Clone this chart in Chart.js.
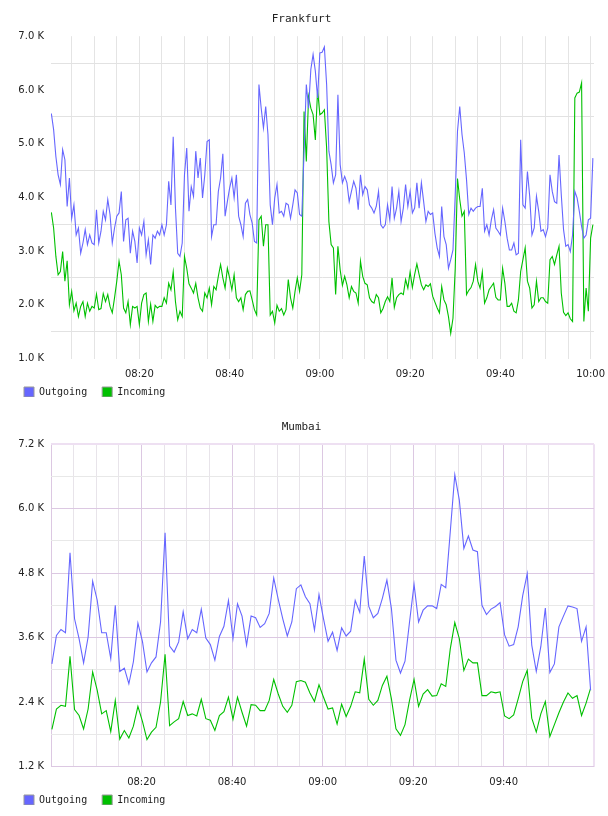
<!DOCTYPE html>
<html>
<head>
<meta charset="utf-8">
<script src="https://cdn.jsdelivr.net/npm/chart.js@4.4.1/dist/chart.umd.min.js"></script>
<style>
  body { margin: 0; background: #fff; overflow: hidden; }
  canvas { display: block; }
</style>
</head>
<body>
<canvas id="fraChart" width="608" height="408"></canvas>
<canvas id="mumChart" width="608" height="408"></canvas>
<script>
// minutes after 08:00; Frankfurt is sampled every 30 s, Mumbai every minute
const fraStep = 0.5;
const fraStart = 0.5;
const mumStep = 1;
const mumStart = 0.2;

const seriesLabels = ["Outgoing", "Incoming"];
const seriesColors = ["#6666ff", "#00c000"];

// ============ Frankfurt ============
const fraOut = [
  5560, 5260, 4760, 4420, 4240, 4890, 4700, 3830, 4360, 3610,
  3860, 3300, 3430, 2960, 3150, 3400, 3120, 3300, 3150, 3120,
  3770, 3150, 3370, 3740, 3580, 3960, 3680, 3150, 3430, 3650,
  3710, 4110, 3180, 3580, 3610, 2960, 3370, 3180, 2780, 3430,
  3300, 3550, 2930, 3210, 2750, 3300, 3240, 3370, 3300, 3490,
  3300, 3490, 4300, 3860, 5130, 3800, 2960, 2900, 3150, 4420,
  4920, 3740, 4200, 4020, 4860, 4360, 4730, 3990, 4420, 5040,
  5070, 3270, 3490, 3490, 4110, 4360, 4810, 3650, 3920, 4170,
  4360, 3990, 4420, 3650, 3490, 3270, 3890, 3960, 3680, 3520,
  3180, 3150, 6100, 5660, 5290, 5690, 5170, 3860, 3490, 3990,
  4240, 3710, 3740, 3650, 3890, 3860, 3610, 3860, 4140, 4080,
  3680, 3650, 4860, 6100, 5660, 6380, 6660, 6350, 5850, 6690,
  6700, 6800, 6100, 4860, 4610, 4270, 4420, 5910, 4610, 4270,
  4390, 4270, 3920, 4110, 4300, 4170, 3770, 4420, 4050, 4200,
  4140, 3860, 3800, 3710, 3830, 4110, 3490, 3430, 3490, 3860,
  3580, 4200, 3610, 3800, 4110, 3550, 3800, 4240, 3830, 4110,
  3710, 3800, 4270, 3800, 4270, 3920, 3550, 3740, 3680, 3710,
  3330, 3060, 2900, 3830, 3270, 3120, 2680, 2840, 3020, 4050,
  5230, 5690, 5170, 4830, 4330, 3680, 3800, 3740, 3800, 3830,
  3830, 4170, 3370, 3490, 3300, 3580, 3770, 3430, 3370, 3300,
  3800, 3550, 3240, 3020, 3020, 3150, 2930, 2960, 5070, 3860,
  3800, 4480, 4020, 3300, 3430, 4020, 3740, 3370, 3400, 3270,
  3430, 4420, 4110, 3920, 3890, 4790, 4050, 3400, 3090, 3120,
  2990, 3300, 4110, 3990, 3740, 3460, 3240, 3300, 3580, 3610,
  4730,
];
const fraIn = [
  3720, 3430, 2900, 2560, 2620, 2990, 2440, 2820, 2000, 2250,
  1890, 2030, 1780, 1970, 2060, 1780, 2030, 1880, 1970, 1940,
  2200, 1910, 1930, 2210, 2060, 2190, 1970, 1850, 2130, 2440,
  2810, 2560, 1940, 1850, 2060, 1630, 1970, 1940, 1970, 1630,
  2030, 2190, 2220, 1690, 2010, 1690, 1990, 1940, 1970, 1970,
  2130, 2030, 2400, 2280, 2610, 2060, 1720, 1880, 1780, 2900,
  2680, 2390, 2310, 2220, 2400, 2130, 1940, 1880, 2220, 2130,
  2310, 2000, 2340, 2280, 2530, 2750, 2500, 2310, 2680, 2500,
  2280, 2560, 2130, 2060, 2130, 1910, 2190, 2250, 2260, 2090,
  1910, 1810, 3580, 3650, 3090, 3490, 3490, 1810, 1880, 1660,
  1990, 1880, 1930, 1810, 1910, 2470, 2130, 1940, 2250, 2500,
  2250, 2560, 5600, 4670, 5880, 5660, 5540, 5070, 6000, 5540,
  5570, 5630, 4920, 3550, 3120, 3060, 2190, 3090, 2650, 2360,
  2530, 2370, 2130, 2340, 2250, 2220, 2030, 2810, 2530, 2400,
  2370, 2130, 2060, 2030, 2190, 2130, 1850, 1930, 2060, 2150,
  2060, 2500, 1950, 2130, 2190, 2220, 2190, 2470, 2310, 2610,
  2320, 2560, 2760, 2560, 2370, 2280, 2370, 2340, 2390, 2160,
  2050, 1940, 1850, 2340, 2090, 2000, 1780, 1470, 1750, 2680,
  4350, 3960, 3650, 3740, 2190, 2270, 2320, 2440, 2750, 2440,
  2310, 2610, 2030, 2130, 2280, 2340, 2400, 2140, 2090, 2090,
  2680, 2400, 1970, 1970, 2030, 1880, 1850, 2090, 2620, 2840,
  3060, 2440, 2310, 1940, 2000, 2440, 2060, 2130, 2130, 2060,
  2030, 2840, 2900, 2750, 2930, 3090, 2220, 1860, 1800, 1850,
  1740, 1690, 5850, 5940, 5960, 6130, 1690, 2310, 1880, 3240,
  3490,
];

// ============ Mumbai ============
const mumOut = [
  3110, 3640, 3750, 3690, 5180, 3950, 3580, 3130, 3610, 4650,
  4300, 3690, 3690, 3210, 4200, 2970, 3030, 2740, 3150, 3870,
  3530, 2960, 3130, 3240, 3890, 5550, 3440, 3330, 3520, 4080,
  3580, 3750, 3690, 4130, 3590, 3470, 3180, 3620, 3810, 4290,
  3580, 4230, 4000, 3460, 4000, 3970, 3790, 3860, 4050, 4710,
  4310, 3950, 3630, 3890, 4510, 4580, 4360, 4230, 3740, 4400,
  3950, 3530, 3700, 3360, 3780, 3630, 3720, 4290, 4070, 5120,
  4180, 3970, 4050, 4330, 4670, 4140, 3180, 2940, 3160, 3890,
  4590, 3890, 4110, 4190, 4190, 4140, 4590, 4530, 5570, 6630,
  6160, 5260, 5490, 5230, 5200, 4200, 4030, 4130, 4180, 4250,
  3650, 3440, 3470, 3800, 4380, 4790, 3460, 2970, 3430, 4150,
  2950, 3110, 3800, 4000, 4190, 4170, 4140, 3530, 3800, 2620,
];
const mumIn = [
  1890, 2270, 2340, 2320, 3250, 2260, 2150, 1900, 2270, 2960,
  2620, 2180, 2240, 1850, 2430, 1710, 1870, 1730, 1950, 2320,
  2040, 1700, 1840, 1930, 2400, 3290, 1960, 2030, 2090, 2410,
  2150, 2180, 2140, 2450, 2090, 2060, 1870, 2150, 2220, 2490,
  2080, 2490, 2210, 1950, 2350, 2340, 2240, 2240, 2430, 2820,
  2550, 2320, 2210, 2340, 2780, 2800, 2770, 2570, 2410, 2720,
  2490, 2270, 2290, 1990, 2360, 2130, 2320, 2590, 2570, 3200,
  2450, 2340, 2430, 2710, 2880, 2460, 1900, 1780, 1980, 2430,
  2820, 2320, 2550, 2630, 2510, 2520, 2740, 2690, 3390, 3880,
  3580, 2990, 3200, 3130, 3130, 2520, 2520, 2590, 2570, 2590,
  2140, 2090, 2160, 2460, 2780, 2990, 2100, 1840, 2180, 2410,
  1760, 1980, 2200, 2400, 2570, 2470, 2520, 2150, 2380, 2660,
];

Chart.defaults.font.family = "'DejaVu Sans', sans-serif";
Chart.defaults.font.size = 10;
Chart.defaults.color = "#222";

// the legend sits right under the tick labels, closer than the layout allows
const liftLegend = {
  id: "liftLegend",
  afterLayout(chart) {
    const lg = chart.legend;
    lg.top -= 11;
    lg.bottom -= 11;
  },
};

function pad2(n) {
  return n < 10 ? "0" + n : "" + n;
}

// label only every 20 minutes, never at 08:00
function timeLabel(v) {
  if (v <= 0 || v % 20 !== 0) return "";
  return pad2(8 + Math.floor(v / 60)) + ":" + pad2(v % 60);
}

function kLabel(every) {
  return (v) => (v % every === 0 ? (v / 1000).toFixed(1) + " K" : "");
}

function toPoints(vals, start, step) {
  return vals.map((v, i) => ({ x: start + i * step, y: v }));
}

function makeChart(id, title, out, inc, start, step, xScale, yScale) {
  const ctx = document.getElementById(id).getContext("2d");
  return new Chart(ctx, {
    type: "line",
    plugins: [liftLegend],
    data: {
      datasets: [out, inc].map((vals, i) => ({
        label: seriesLabels[i],
        data: toPoints(vals, start, step),
        borderColor: seriesColors[i],
        backgroundColor: seriesColors[i],
        borderWidth: 1.1,
        pointRadius: 0,
        tension: 0,
        fill: false,
      })),
    },
    options: {
      responsive: false,
      animation: false,
      events: [],
      layout: { padding: { left: 9, right: 14, top: 0, bottom: 0 } },
      plugins: {
        title: {
          display: true,
          text: title,
          color: "#222",
          font: { family: "'DejaVu Sans Mono', monospace", size: 11, weight: "normal" },
          padding: { top: 13, bottom: 10 },
        },
        legend: {
          display: true,
          position: "bottom",
          align: "start",
          maxHeight: 25,
          labels: {
            boxWidth: 10,
            boxHeight: 10,
            padding: 15,
            color: "#222",
            font: { family: "'DejaVu Sans Mono', monospace", size: 10 },
            generateLabels: (chart) =>
              chart.data.datasets.map((ds, i) => ({
                text: ds.label,
                fillStyle: ds.borderColor,
                strokeStyle: "#999",
                lineWidth: 1,
                hidden: false,
                datasetIndex: i,
                fontColor: "#222",
              })),
          },
        },
        tooltip: { enabled: false },
      },
      scales: {
        x: Object.assign(
          {
            type: "linear",
            border: { display: false },
            // let the last time label run off the edge instead of shrinking the plot
            afterFit: (s) => {
              s.height = 24.5;
              s.paddingLeft = 0;
              s.paddingRight = 0;
            },
          },
          xScale
        ),
        y: Object.assign(
          {
            type: "linear",
            border: { display: false },
            afterFit: (s) => { s.width = 42; },
          },
          yScale
        ),
      },
    },
  });
}

// Frankfurt: grey grid, horizontal lines between the labelled values
makeChart("fraChart", "Frankfurt", fraOut, fraIn, fraStart, fraStep,
  {
    min: 0.42,
    max: 120.75,
    ticks: { stepSize: 5, includeBounds: false, autoSkip: false, maxRotation: 0, padding: 10, callback: timeLabel },
    grid: { color: "#e4e4e4", drawTicks: false },
  },
  {
    min: 1000,
    max: 7000,
    ticks: { stepSize: 500, autoSkip: false, padding: 7, callback: kLabel(1000) },
    grid: {
      drawTicks: false,
      color: (c) => (c.tick && c.tick.value % 1000 === 0 ? "rgba(0,0,0,0)" : "#e2e2e2"),
    },
  }
);

// Mumbai: purple major lines, grey minor lines, light frame on the right
const mumMax = 119.95;
makeChart("mumChart", "Mumbai", mumOut, mumIn, mumStart, mumStep,
  {
    min: 0,
    max: mumMax,
    ticks: { stepSize: 5, includeBounds: true, autoSkip: false, maxRotation: 0, padding: 10, callback: timeLabel },
    grid: {
      drawTicks: false,
      color: (c) => {
        const v = c.tick ? c.tick.value : 0;
        if (v === mumMax) return "#eee0f2";
        return v % 20 === 0 ? "#dcc8e2" : "#e8e4ea";
      },
      lineWidth: (c) => (c.tick && c.tick.value === mumMax ? 2 : 1),
    },
  },
  {
    min: 1200,
    max: 7200,
    ticks: { stepSize: 600, autoSkip: false, padding: 7, callback: kLabel(1200) },
    grid: {
      drawTicks: false,
      color: (c) => {
        const v = c.tick ? c.tick.value : 0;
        if (v === 7200) return "#eee0f2";
        return v % 1200 === 0 ? "#dcc8e2" : "#e8e8e8";
      },
      lineWidth: (c) => (c.tick && c.tick.value === 7200 ? 2 : 1),
    },
  }
);
</script>
</body>
</html>
